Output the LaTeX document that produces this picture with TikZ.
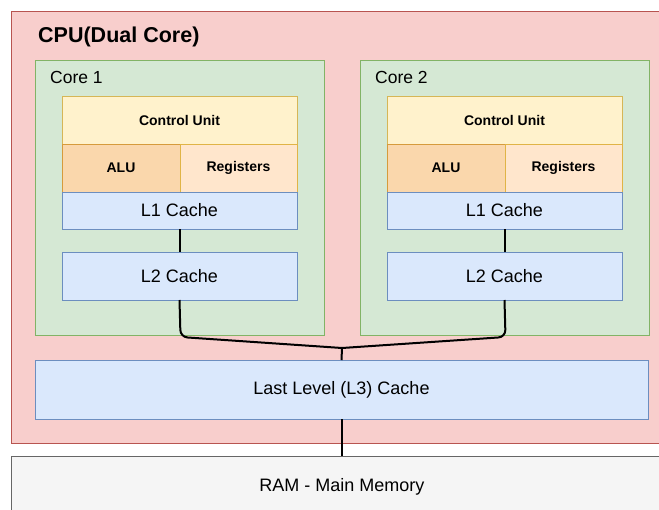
\documentclass[tikz,border=0pt]{standalone}
\usepackage{fontspec}
\setmainfont{Liberation Sans}
\begin{document}
\begin{tikzpicture}[x=1pt,y=-1pt,
  box/.style={draw, line width=1pt, anchor=north west, inner sep=0pt, outer sep=0pt},
  cpu/.style={box, fill={rgb,255:red,248;green,206;blue,204}, draw={rgb,255:red,184;green,84;blue,80}},
  core/.style={box, fill={rgb,255:red,213;green,232;blue,212}, draw={rgb,255:red,130;green,179;blue,102}},
  ctrl/.style={box, fill={rgb,255:red,255;green,242;blue,204}, draw={rgb,255:red,214;green,182;blue,86}, font=\fontsize{14}{16}\selectfont\bfseries},
  alu/.style={box, fill={rgb,255:red,250;green,215;blue,172}, draw={rgb,255:red,214;green,155;blue,60}, font=\fontsize{14}{16}\selectfont\bfseries},
  regs/.style={box, fill={rgb,255:red,255;green,230;blue,204}, draw={rgb,255:red,224;green,180;blue,70}, font=\fontsize{14}{16}\selectfont\bfseries},
  cache/.style={box, fill={rgb,255:red,218;green,232;blue,252}, draw={rgb,255:red,108;green,142;blue,191}, font=\fontsize{18}{20}\selectfont},
  ram/.style={box, fill={rgb,255:red,245;green,245;blue,245}, draw={rgb,255:red,102;green,102;blue,102}, font=\fontsize{18}{20}\selectfont},
  lbl/.style={anchor=west, inner sep=0pt, font=\fontsize{17.5}{20}\selectfont},
  conn/.style={draw=black, line width=2pt}]
\useasboundingbox (0,0) rectangle (659,509);
\clip (0,0) rectangle (659,509);

% CPU package and memory
\node[cpu, minimum width=670, minimum height=432] (cpu) at (11,11) {};
\node[anchor=west, inner sep=0pt, font=\fontsize{21.5}{24}\selectfont\bfseries] (cputitle) at (38,37) {CPU(Dual Core)};
\node[ram, minimum width=670, minimum height=80] (ram) at (11,456) {};
\node[font=\fontsize{18}{20}\selectfont, inner sep=0pt] (ramtext) at (342,487) {RAM - Main Memory};

% Core 1
\node[core, minimum width=289, minimum height=275] (core1) at (35,60) {};
\node[lbl] (core1lbl) at (50,77) {Core 1};
\node[ctrl, minimum width=235, minimum height=48] (cu1) at (62,96) {Control Unit};
\node[alu, minimum width=118, minimum height=48] (alu1) at (62,144) {ALU};
\node[regs, minimum width=117, minimum height=48] (reg1) at (180,144) {Registers};
\node[cache, minimum width=235, minimum height=37] (l1a) at (62,192) {L1 Cache};
\node[cache, minimum width=235, minimum height=48] (l2a) at (62,252) {L2 Cache};

% Core 2
\node[core, minimum width=289, minimum height=275] (core2) at (360,60) {};
\node[lbl] (core2lbl) at (375,77) {Core 2};
\node[ctrl, minimum width=235, minimum height=48] (cu2) at (387,96) {Control Unit};
\node[alu, minimum width=118, minimum height=48] (alu2) at (387,144) {ALU};
\node[regs, minimum width=117, minimum height=48] (reg2) at (505,144) {Registers};
\node[cache, minimum width=235, minimum height=37] (l1b) at (387,192) {L1 Cache};
\node[cache, minimum width=235, minimum height=48] (l2b) at (387,252) {L2 Cache};

% Shared last level cache
\node[cache, minimum width=613, minimum height=59] (l3) at (35,360) {Last Level (L3) Cache};

% Interconnect
\coordinate (j) at (342,348);
\coordinate (bendA) at (180.5,337);
\coordinate (bendB) at (505.5,337);
\draw[conn] (l1a.south) -- (l2a.north);
\draw[conn] (l1b.south) -- (l2b.north);
\draw[conn, rounded corners=7] (l2a.south) -- (bendA) -- (j);
\draw[conn, rounded corners=7] (l2b.south) -- (bendB) -- (j);
\draw[conn] (j) -- (l3.north);
\draw[conn] (l3.south) -- (ram.north -| l3.south);
\end{tikzpicture}
\end{document}
